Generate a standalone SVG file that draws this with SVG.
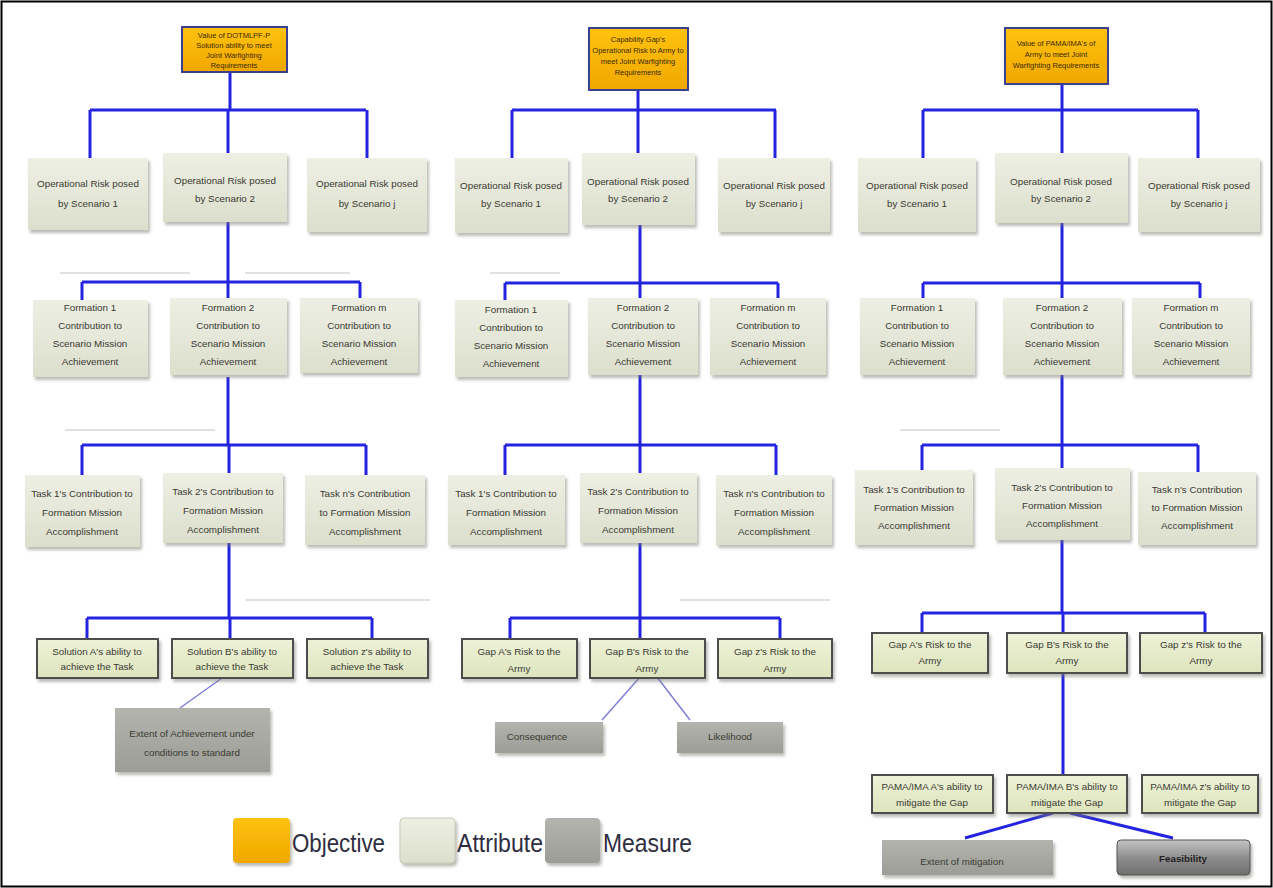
<svg xmlns="http://www.w3.org/2000/svg" width="1273" height="888" viewBox="0 0 1273 888">
<defs>
<linearGradient id="ga" x1="0" y1="0" x2="0" y2="1"><stop offset="0" stop-color="#eeefe4"/><stop offset="1" stop-color="#dcdfcc"/></linearGradient>
<linearGradient id="gb" x1="0" y1="0" x2="0" y2="1"><stop offset="0" stop-color="#eef2d8"/><stop offset="1" stop-color="#dde4bd"/></linearGradient>
<linearGradient id="gm" x1="0" y1="0" x2="0" y2="1"><stop offset="0" stop-color="#b3b4ad"/><stop offset="1" stop-color="#9c9d96"/></linearGradient>
<linearGradient id="gf" x1="0" y1="0" x2="0" y2="1"><stop offset="0" stop-color="#c4c4c4"/><stop offset="0.5" stop-color="#8e8e8e"/><stop offset="1" stop-color="#6e6e6e"/></linearGradient>
<linearGradient id="go" x1="0" y1="0" x2="0" y2="1"><stop offset="0" stop-color="#ffc20e"/><stop offset="1" stop-color="#f0a800"/></linearGradient>
<filter id="sh" x="-10%" y="-10%" width="125%" height="130%"><feDropShadow dx="2" dy="3" stdDeviation="1.5" flood-color="#7a7a70" flood-opacity="0.5"/></filter>
</defs>
<style>
.a{fill:url(#ga);filter:url(#sh)}
.ab{fill:url(#gb);stroke:#4d4d4d;stroke-width:2;filter:url(#sh)}
.m{fill:url(#gm);filter:url(#sh)}
.o{fill:url(#go);stroke:#3b3f8f;stroke-width:2}
.c{stroke:#2424e0;stroke-width:3;fill:none}
.cl{stroke:#7f7fd8;stroke-width:1.5;fill:none}
.g{stroke:#d8d8d8;stroke-width:1.5;fill:none}
text{font-family:"Liberation Sans",Arial,sans-serif;fill:#3a3a32;text-anchor:middle}
.t{font-size:9.8px}
.ts{font-size:7.5px;fill:#3a2a00}
.lg{font-size:26px;fill:#2e2e40;text-anchor:start}
</style>
<rect x="1.5" y="1.5" width="1270" height="885" fill="#fff" stroke="#000" stroke-width="2"/>

<g id="ghost">
<path class="g" d="M60 273H190M245 273H350M65 430H215M245 600H430M490 273H560M680 600H830M900 430H1000"/>
</g>

<g id="connectors">
<path class="c" d="M230 72V110M90 110H366M90 110V158M228 110V153M367 110V158"/>
<path class="c" d="M228 222V282M82 282H360M82 282V300M228 282V298M360 282V298"/>
<path class="c" d="M228 377V445M82 445H366M82 445V475M229 445V473M366 445V475"/>
<path class="c" d="M229 543V618M87 618H372M87 618V639M230 618V639M372 618V639"/>
<path class="cl" d="M222 678L180 708"/>
<path class="c" d="M638 90V110M512 110H776M512 110V158M638 110V153M775 110V158"/>
<path class="c" d="M640 225V283M505 283H778M505 283V300M640 283V298M778 283V298"/>
<path class="c" d="M640 375V445M505 445H776M505 445V475M640 445V473M776 445V475"/>
<path class="c" d="M640 543V618M510 618H780M510 618V639M640 618V639M780 618V639"/>
<path class="cl" d="M640 677L602 720M657 677L690 720"/>
<path class="c" d="M1062 84V110M923 110H1198M923 110V158M1062 110V153M1198 110V158"/>
<path class="c" d="M1062 222V283M923 283H1200M923 283V298M1062 283V298M1200 283V298"/>
<path class="c" d="M1062 375V445M922 445H1198M922 445V470M1062 445V468M1198 445V472"/>
<path class="c" d="M1062 540V613M922 613H1205M922 613V633M1063 613V633M1205 613V633"/>
<path class="c" d="M1063 673V775M1053 813L965 838M1070 813L1173 838"/>
</g>

<!-- Objectives -->
<g id="obj1"><rect class="o" x="182" y="27" width="105" height="45"/>
<text class="ts" x="234" y="38">Value of DOTMLPF-P</text><text class="ts" x="234" y="48">Solution ability to meet</text><text class="ts" x="234" y="58">Joint Warfighting</text><text class="ts" x="234" y="68">Requirements</text></g>
<g id="obj2"><rect class="o" x="589" y="28" width="99" height="62"/>
<text class="ts" x="638" y="42">Capability Gap's</text><text class="ts" x="638" y="53">Operational Risk to Army to</text><text class="ts" x="638" y="64">meet Joint Warfighting</text><text class="ts" x="638" y="75">Requirements</text></g>
<g id="obj3"><rect class="o" x="1005" y="28" width="103" height="56"/>
<text class="ts" x="1056" y="46">Value of PAMA/IMA's of</text><text class="ts" x="1056" y="57">Army to meet Joint</text><text class="ts" x="1056" y="68">Warfighting Requirements</text></g>

<!-- Scenario level -->
<g id="s11"><rect class="a" x="28" y="158" width="120" height="72"/><text class="t" x="88" y="187">Operational Risk posed</text><text class="t" x="88" y="207">by Scenario 1</text></g>
<g id="s12"><rect class="a" x="163" y="153" width="124" height="69"/><text class="t" x="225" y="184">Operational Risk posed</text><text class="t" x="225" y="202">by Scenario 2</text></g>
<g id="s13"><rect class="a" x="307" y="158" width="120" height="74"/><text class="t" x="367" y="187">Operational Risk posed</text><text class="t" x="367" y="207">by Scenario j</text></g>
<g id="s21"><rect class="a" x="455" y="158" width="113" height="75"/><text class="t" x="511" y="189">Operational Risk posed</text><text class="t" x="511" y="207">by Scenario 1</text></g>
<g id="s22"><rect class="a" x="582" y="153" width="113" height="72"/><text class="t" x="638" y="185">Operational Risk posed</text><text class="t" x="638" y="202">by Scenario 2</text></g>
<g id="s23"><rect class="a" x="718" y="158" width="112" height="74"/><text class="t" x="774" y="189">Operational Risk posed</text><text class="t" x="774" y="207">by Scenario j</text></g>
<g id="s31"><rect class="a" x="858" y="158" width="118" height="74"/><text class="t" x="917" y="189">Operational Risk posed</text><text class="t" x="917" y="207">by Scenario 1</text></g>
<g id="s32"><rect class="a" x="995" y="153" width="133" height="70"/><text class="t" x="1061" y="185">Operational Risk posed</text><text class="t" x="1061" y="202">by Scenario 2</text></g>
<g id="s33"><rect class="a" x="1138" y="158" width="122" height="74"/><text class="t" x="1199" y="189">Operational Risk posed</text><text class="t" x="1199" y="207">by Scenario j</text></g>

<!-- Formation level -->
<g id="f11"><rect class="a" x="33" y="300" width="115" height="77"/><text class="t" x="90" y="311">Formation 1</text><text class="t" x="90" y="329">Contribution to</text><text class="t" x="90" y="347">Scenario Mission</text><text class="t" x="90" y="365">Achievement</text></g>
<g id="f12"><rect class="a" x="170" y="298" width="117" height="77"/><text class="t" x="228" y="311">Formation 2</text><text class="t" x="228" y="329">Contribution to</text><text class="t" x="228" y="347">Scenario Mission</text><text class="t" x="228" y="365">Achievement</text></g>
<g id="f13"><rect class="a" x="300" y="298" width="118" height="75"/><text class="t" x="359" y="311">Formation m</text><text class="t" x="359" y="329">Contribution to</text><text class="t" x="359" y="347">Scenario Mission</text><text class="t" x="359" y="365">Achievement</text></g>
<g id="f21"><rect class="a" x="455" y="300" width="113" height="77"/><text class="t" x="511" y="313">Formation 1</text><text class="t" x="511" y="331">Contribution to</text><text class="t" x="511" y="349">Scenario Mission</text><text class="t" x="511" y="367">Achievement</text></g>
<g id="f22"><rect class="a" x="588" y="298" width="110" height="77"/><text class="t" x="643" y="311">Formation 2</text><text class="t" x="643" y="329">Contribution to</text><text class="t" x="643" y="347">Scenario Mission</text><text class="t" x="643" y="365">Achievement</text></g>
<g id="f23"><rect class="a" x="710" y="298" width="116" height="77"/><text class="t" x="768" y="311">Formation m</text><text class="t" x="768" y="329">Contribution to</text><text class="t" x="768" y="347">Scenario Mission</text><text class="t" x="768" y="365">Achievement</text></g>
<g id="f31"><rect class="a" x="860" y="298" width="115" height="77"/><text class="t" x="917" y="311">Formation 1</text><text class="t" x="917" y="329">Contribution to</text><text class="t" x="917" y="347">Scenario Mission</text><text class="t" x="917" y="365">Achievement</text></g>
<g id="f32"><rect class="a" x="1003" y="298" width="119" height="77"/><text class="t" x="1062" y="311">Formation 2</text><text class="t" x="1062" y="329">Contribution to</text><text class="t" x="1062" y="347">Scenario Mission</text><text class="t" x="1062" y="365">Achievement</text></g>
<g id="f33"><rect class="a" x="1132" y="298" width="118" height="77"/><text class="t" x="1191" y="311">Formation m</text><text class="t" x="1191" y="329">Contribution to</text><text class="t" x="1191" y="347">Scenario Mission</text><text class="t" x="1191" y="365">Achievement</text></g>

<!-- Task level -->
<g id="t11"><rect class="a" x="25" y="475" width="115" height="72"/><text class="t" x="82" y="497">Task 1's Contribution to</text><text class="t" x="82" y="516">Formation Mission</text><text class="t" x="82" y="535">Accomplishment</text></g>
<g id="t12"><rect class="a" x="163" y="473" width="120" height="70"/><text class="t" x="223" y="495">Task 2's Contribution to</text><text class="t" x="223" y="514">Formation Mission</text><text class="t" x="223" y="533">Accomplishment</text></g>
<g id="t13"><rect class="a" x="305" y="475" width="120" height="70"/><text class="t" x="365" y="497">Task n's Contribution</text><text class="t" x="365" y="516">to Formation Mission</text><text class="t" x="365" y="535">Accomplishment</text></g>
<g id="t21"><rect class="a" x="448" y="475" width="117" height="70"/><text class="t" x="506" y="497">Task 1's Contribution to</text><text class="t" x="506" y="516">Formation Mission</text><text class="t" x="506" y="535">Accomplishment</text></g>
<g id="t22"><rect class="a" x="580" y="473" width="117" height="70"/><text class="t" x="638" y="495">Task 2's Contribution to</text><text class="t" x="638" y="514">Formation Mission</text><text class="t" x="638" y="533">Accomplishment</text></g>
<g id="t23"><rect class="a" x="716" y="475" width="116" height="70"/><text class="t" x="774" y="497">Task n's Contribution to</text><text class="t" x="774" y="516">Formation Mission</text><text class="t" x="774" y="535">Accomplishment</text></g>
<g id="t31"><rect class="a" x="855" y="470" width="118" height="75"/><text class="t" x="914" y="493">Task 1's Contribution to</text><text class="t" x="914" y="511">Formation Mission</text><text class="t" x="914" y="529">Accomplishment</text></g>
<g id="t32"><rect class="a" x="995" y="468" width="135" height="72"/><text class="t" x="1062" y="491">Task 2's Contribution to</text><text class="t" x="1062" y="509">Formation Mission</text><text class="t" x="1062" y="527">Accomplishment</text></g>
<g id="t33"><rect class="a" x="1138" y="472" width="118" height="73"/><text class="t" x="1197" y="493">Task n's Contribution</text><text class="t" x="1197" y="511">to Formation Mission</text><text class="t" x="1197" y="529">Accomplishment</text></g>

<!-- Solution / Gap level -->
<g id="u11"><rect class="ab" x="37" y="639" width="121" height="39"/><text class="t" x="97" y="655">Solution A's ability to</text><text class="t" x="97" y="670">achieve the Task</text></g>
<g id="u12"><rect class="ab" x="172" y="639" width="121" height="39"/><text class="t" x="232" y="655">Solution B's ability to</text><text class="t" x="232" y="670">achieve the Task</text></g>
<g id="u13"><rect class="ab" x="307" y="639" width="121" height="39"/><text class="t" x="367" y="655">Solution z's ability to</text><text class="t" x="367" y="670">achieve the Task</text></g>
<g id="u21"><rect class="ab" x="462" y="639" width="115" height="39"/><text class="t" x="519" y="655">Gap A's Risk to the</text><text class="t" x="519" y="672">Army</text></g>
<g id="u22"><rect class="ab" x="590" y="639" width="115" height="39"/><text class="t" x="647" y="655">Gap B's Risk to the</text><text class="t" x="647" y="672">Army</text></g>
<g id="u23"><rect class="ab" x="718" y="639" width="114" height="39"/><text class="t" x="775" y="655">Gap z's Risk to the</text><text class="t" x="775" y="672">Army</text></g>
<g id="u31"><rect class="ab" x="872" y="633" width="116" height="40"/><text class="t" x="930" y="648">Gap A's Risk to the</text><text class="t" x="930" y="664">Army</text></g>
<g id="u32"><rect class="ab" x="1007" y="633" width="120" height="40"/><text class="t" x="1067" y="648">Gap B's Risk to the</text><text class="t" x="1067" y="664">Army</text></g>
<g id="u33"><rect class="ab" x="1140" y="633" width="122" height="40"/><text class="t" x="1201" y="648">Gap z's Risk to the</text><text class="t" x="1201" y="664">Army</text></g>

<!-- PAMA level -->
<g id="p1"><rect class="ab" x="872" y="775" width="121" height="38"/><text class="t" x="932" y="790">PAMA/IMA A's ability to</text><text class="t" x="932" y="806">mitigate the Gap</text></g>
<g id="p2"><rect class="ab" x="1007" y="775" width="120" height="38"/><text class="t" x="1067" y="790">PAMA/IMA B's ability to</text><text class="t" x="1067" y="806">mitigate the Gap</text></g>
<g id="p3"><rect class="ab" x="1142" y="775" width="116" height="38"/><text class="t" x="1200" y="790">PAMA/IMA z's ability to</text><text class="t" x="1200" y="806">mitigate the Gap</text></g>

<!-- Measures -->
<g id="m1"><rect class="m" x="115" y="708" width="155" height="64"/><text class="t" x="192" y="737">Extent of Achievement under</text><text class="t" x="192" y="756">conditions to standard</text></g>
<g id="m2"><rect class="m" x="495" y="722" width="108" height="31"/><text class="t" x="537" y="740">Consequence</text></g>
<g id="m3"><rect class="m" x="677" y="722" width="106" height="31"/><text class="t" x="730" y="740">Likelihood</text></g>
<g id="m4"><rect class="m" x="882" y="840" width="171" height="35"/><text class="t" x="962" y="865">Extent of mitigation</text></g>
<g id="m5"><rect x="1117" y="840" width="133" height="35" rx="4" fill="url(#gf)" stroke="#555" stroke-width="1" filter="url(#sh)"/><text class="t" x="1183" y="862" style="font-weight:bold;fill:#222">Feasibility</text></g>

<!-- Legend -->
<g id="legend">
<rect x="233" y="818" width="57" height="45" rx="4" fill="url(#go)" filter="url(#sh)"/>
<text class="lg" x="292" y="852" textLength="93" lengthAdjust="spacingAndGlyphs">Objective</text>
<rect x="400" y="818" width="55" height="45" rx="4" fill="url(#ga)" stroke="#c8cbb6" filter="url(#sh)"/>
<text class="lg" x="457" y="852" textLength="86" lengthAdjust="spacingAndGlyphs">Attribute</text>
<rect x="545" y="818" width="55" height="45" rx="4" fill="url(#gm)" filter="url(#sh)"/>
<text class="lg" x="603" y="852" textLength="89" lengthAdjust="spacingAndGlyphs">Measure</text>
</g>
</svg>
